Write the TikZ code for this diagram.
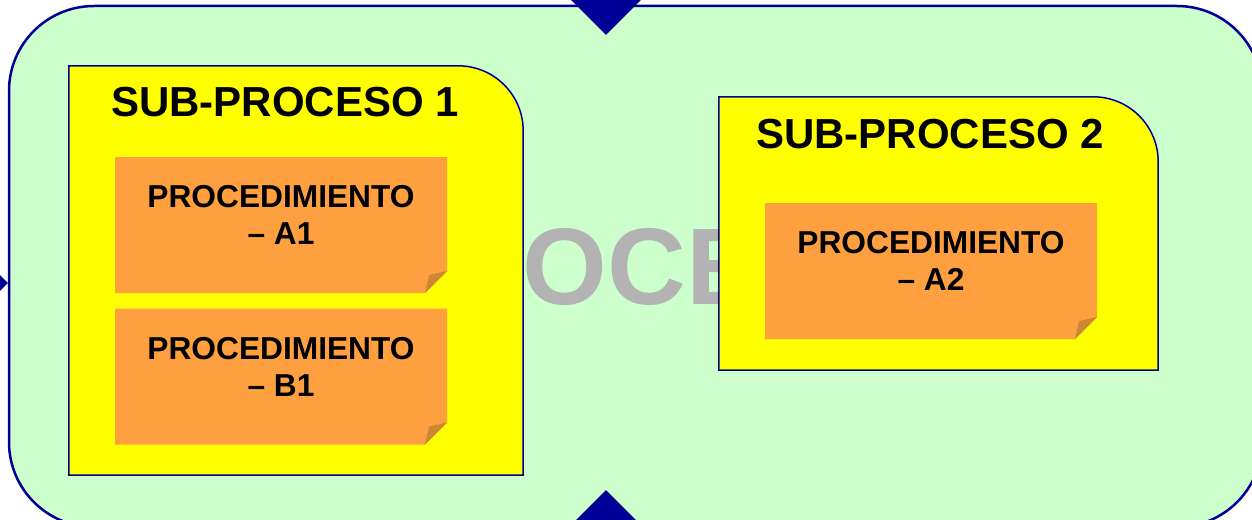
\documentclass[tikz,border=0pt]{standalone}
\usepackage{fontspec}
\setmainfont{Liberation Sans}
\usetikzlibrary{positioning,shapes.geometric}
\definecolor{procgreen}{RGB}{204,255,204}
\definecolor{procblue}{RGB}{0,0,150}
\definecolor{subyellow}{RGB}{255,255,0}
\definecolor{notefill}{RGB}{255,160,64}
\definecolor{notefold}{RGB}{204,136,51}
\definecolor{wmgrey}{RGB}{179,179,179}

\tikzset{
  procbox/.style={draw=procblue,line width=2.5pt,fill=procgreen,rounded corners=85pt,inner sep=0pt},
  marker/.style={diamond,fill=procblue,minimum size=74pt,inner sep=0pt},
  subbox/.style={draw=procblue,line width=1.5pt,fill=subyellow},
  subtitle/.style={font=\bfseries\fontsize{42}{50}\selectfont,inner sep=0pt,anchor=base},
  notebox/.style={minimum width=332pt,minimum height=136pt,inner sep=0pt,align=center,
    text depth=20pt,font=\bfseries\fontsize{31.7}{37}\selectfont,
    path picture={
      \fill[notefill] (path picture bounding box.north west) -- (path picture bounding box.north east)
        -- ([yshift=22pt]path picture bounding box.south east) -- ([xshift=-22pt]path picture bounding box.south east)
        -- (path picture bounding box.south west) -- cycle;
      \fill[notefold] ([yshift=22pt]path picture bounding box.south east) -- ([xshift=-22pt]path picture bounding box.south east)
        -- ([xshift=-18pt,yshift=18pt]path picture bounding box.south east) -- cycle;
    }},
}

\begin{document}
\begin{tikzpicture}[x=1pt,y=-1pt]
\useasboundingbox (0,0) rectangle (1252,519);

% process frame
\node[procbox,minimum width=1253pt,minimum height=521pt] (proc) at (635.5,266.5) {};
\node[anchor=base west,inner sep=0pt,text=wmgrey,font=\bfseries\fontsize{109}{120}\selectfont] (wm) at (371,304) {PROCESO};
\node[marker] (mtop) at (606,-2) {};
\node[marker] (mbot) at (606,527) {};
\node[marker] (mleft) at (-29,283) {};

% sub-processes
\path node[minimum width=454pt,minimum height=409pt] (sp1) at (296,270.5) {};
\draw[subbox] (sp1.south west) -- (sp1.north west) -- ([xshift=-65pt]sp1.north east)
  arc[start angle=90,end angle=0,radius=65pt] -- (sp1.south east) -- cycle;
\path node[minimum width=439pt,minimum height=273pt] (sp2) at (938.5,233.5) {};
\draw[subbox] (sp2.south west) -- (sp2.north west) -- ([xshift=-65pt]sp2.north east)
  arc[start angle=90,end angle=0,radius=65pt] -- (sp2.south east) -- cycle;
\node[subtitle] (t1) at (285,116) {SUB-PROCESO 1};
\node[subtitle] (t2) at (930,148) {SUB-PROCESO 2};

% procedures
\node[notebox] (a1) at (281,225) {PROCEDIMIENTO\\– A1};
\node[notebox] (b1) at (281,376.5) {PROCEDIMIENTO\\– B1};
\node[notebox] (a2) at (931,271) {PROCEDIMIENTO\\– A2};
\end{tikzpicture}
\end{document}
